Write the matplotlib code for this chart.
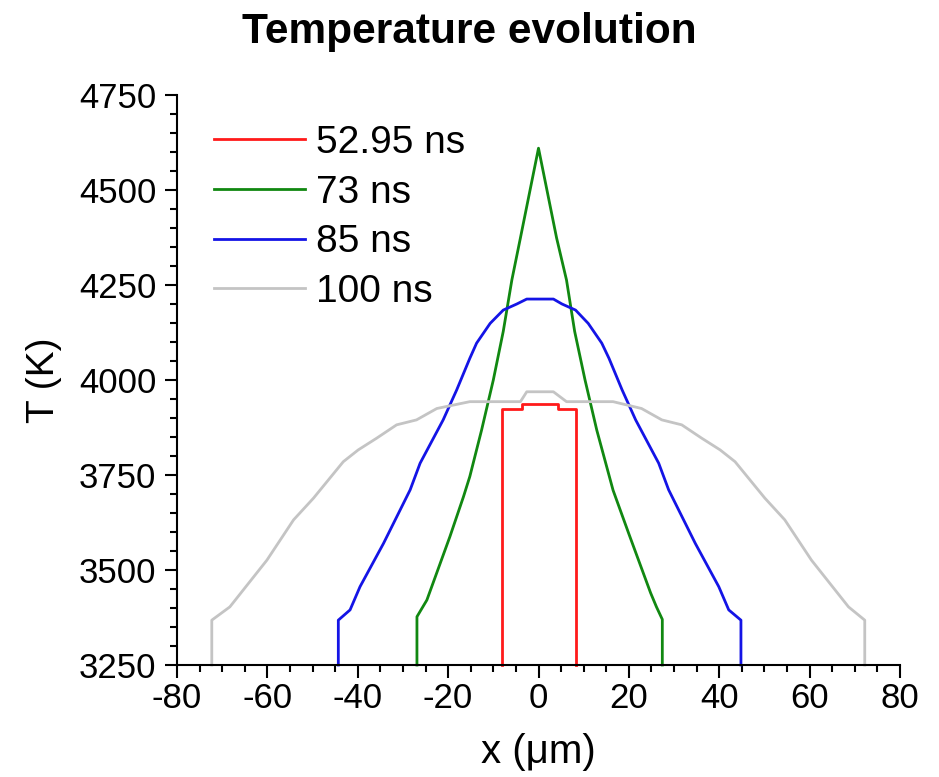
import numpy as np
import matplotlib
matplotlib.use("Agg")
from matplotlib import pyplot as plt
from matplotlib.ticker import MultipleLocator

plt.rcParams['font.family'] = ['Liberation Sans', 'DejaVu Sans']
plt.rcParams['axes.unicode_minus'] = False

# 52.95 ns - flat top, steep walls
x_5295 = [-8, -8, -3.7, -3.7, 4.3, 4.3, 8.2, 8.2]
t_5295 = [3250, 3923, 3923, 3936, 3936, 3923, 3923, 3250]

# 73 ns - sharp peak
x_73 = [-26.9, -26.9, -24.7, -19.6, -16.6, -15.2, -12.6, -10, -7.8, -5.9, -4, 0,
        4, 6.2, 8, 10.3, 12.9, 16.5, 20, 24.8, 26.1, 27.4, 27.4]
t_73 = [3250, 3377, 3421, 3588, 3693, 3746, 3868, 4000, 4128, 4263, 4374, 4610,
        4374, 4263, 4128, 4000, 3868, 3710, 3595, 3440, 3403, 3370, 3250]

# 85 ns
x_85 = [-44.3, -44.3, -41.7, -39.5, -34.3, -28.4, -26.2, -21.1, -18.1, -15.2, -13.7, -10.7,
        -7.8, -4.8, -2.6, 0, 3.3, 5.2, 8.2, 11.0, 14.0, 15.6, 18.5, 21.5, 26.6, 28.8,
        34.7, 39.9, 42.1, 44.8, 44.8]
t_85 = [3250, 3368, 3395, 3456, 3570, 3711, 3781, 3895, 3974, 4057, 4097, 4149,
        4184, 4200, 4213, 4213, 4213, 4200, 4184, 4149, 4097, 4057, 3974, 3895, 3781, 3711,
        3570, 3456, 3395, 3368, 3250]

# 100 ns - broad
x_100 = [-72.3, -72.3, -68.3, -60.1, -54.2, -49.8, -43.2, -39.9, -35.8, -31.4, -27, -22.5,
         -15.2, -4, -2.6, 0, 3.3, 6.2, 16.5, 22.8, 27.3, 31.7, 36.1, 40.2, 43.5, 50.1,
         54.5, 60.4, 68.6, 72.2, 72.2]
t_100 = [3250, 3368, 3403, 3526, 3632, 3689, 3785, 3816, 3847, 3882, 3895, 3925,
         3943, 3943, 3969, 3969, 3969, 3943, 3943, 3925, 3895, 3882, 3847, 3816, 3785, 3689,
         3632, 3526, 3403, 3368, 3250]

series = [
    (x_5295, t_5295, '52.95 ns', '#ff1a1a'),
    (x_73, t_73, '73 ns', '#118811'),
    (x_85, t_85, '85 ns', '#1414e6'),
    (x_100, t_100, '100 ns', '#c4c4c4'),
]

fig = plt.figure(figsize=(9.39, 7.77), dpi=100)
ax = fig.add_axes([177/939, 1-665/777, (900-177)/939, (665-95)/777])

for xs, ts, lab, col in series:
    ax.plot(xs, ts, color=col, lw=2.0, label=lab, clip_on=False)

ax.set_xlim(-80, 80)
ax.set_ylim(3250, 4750)
ax.xaxis.set_major_locator(MultipleLocator(20))
ax.xaxis.set_minor_locator(MultipleLocator(5))
ax.yaxis.set_major_locator(MultipleLocator(250))
ax.yaxis.set_minor_locator(MultipleLocator(50))

for s in ['top', 'right']:
    ax.spines[s].set_visible(False)
for s in ['left', 'bottom']:
    ax.spines[s].set_linewidth(1.5)

ax.tick_params(which='major', direction='out', length=9, width=1.5, labelsize=25)
ax.tick_params(which='minor', direction='out', length=5, width=1.5)
ax.tick_params(axis='x', which='major', pad=3)
ax.tick_params(axis='y', which='major', pad=6)

ax.set_xlabel('x (\u03bcm)', fontsize=29, labelpad=13)
ax.set_ylabel('T (K)', fontsize=28, labelpad=12)
fig.suptitle('Temperature evolution', fontsize=30.5, fontweight='bold', x=0.5, y=0.985)

ax.legend(loc='upper left', bbox_to_anchor=(214/939, 1-125/777), bbox_transform=fig.transFigure,
          frameon=False, fontsize=28, handlelength=2.35, handletextpad=0.28,
          labelspacing=0.35, borderpad=0, borderaxespad=0)

fig.savefig('out.png', dpi=100)
